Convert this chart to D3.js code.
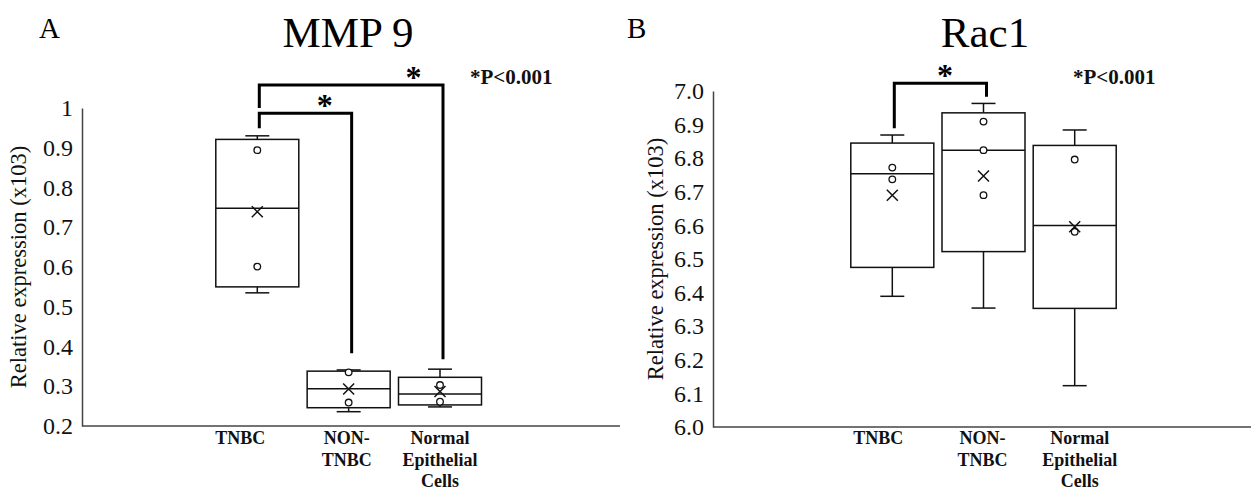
<!DOCTYPE html>
<html>
<head>
<meta charset="utf-8">
<script src="https://cdn.jsdelivr.net/npm/d3@7"></script>
<style>
  html, body { margin: 0; padding: 0; background: #fff; }
  svg { display: block; font-family: "Liberation Serif", "Times New Roman", serif; }
</style>
</head>
<body>
<svg id="chart" width="1251" height="494"></svg>
<script>
// ---------- data ----------
const categories = ["TNBC", "NON-TNBC", "Normal Epithelial Cells"];
const categoryLines = [["TNBC"], ["NON-", "TNBC"], ["Normal", "Epithelial", "Cells"]];

// Panel A: MMP 9
const mmpLow    = [0.535, 0.236, 0.248];
const mmpQ1     = [0.550, 0.246, 0.253];
const mmpMedian = [0.748, 0.294, 0.2805];
const mmpQ3     = [0.921, 0.338, 0.3225];
const mmpHigh   = [0.930, 0.341, 0.343];
const mmpMean   = [0.739, 0.293, 0.287];
const mmpPoints = [[0.894, 0.601], [0.335, 0.259], [0.303, 0.261]];
const mmpTicks  = [0.2, 0.3, 0.4, 0.5, 0.6, 0.7, 0.8, 0.9, 1];
const mmpTickLabels = ["0.2", "0.3", "0.4", "0.5", "0.6", "0.7", "0.8", "0.9", "1"];
// significance brackets: [from, to, top value, from-leg end, to-leg end]
const mmpBrackets = [[0, 1, 0.987, 0.949, 0.383], [0, 2, 1.058, 1.0, 0.368]];

// Panel B: Rac1
const racLow    = [6.389, 6.354, 6.123];
const racQ1     = [6.475, 6.522, 6.353];
const racMedian = [6.754, 6.824, 6.600];
const racQ3     = [6.845, 6.935, 6.838];
const racHigh   = [6.869, 6.963, 6.884];
const racMean   = [6.690, 6.747, 6.596];
const racPoints = [[6.772, 6.737], [6.909, 6.824, 6.690], [6.796, 6.581]];
const racTicks  = [6.0, 6.1, 6.2, 6.3, 6.4, 6.5, 6.6, 6.7, 6.8, 6.9, 7.0];
const racTickLabels = ["6.0", "6.1", "6.2", "6.3", "6.4", "6.5", "6.6", "6.7", "6.8", "6.9", "7.0"];
const racBrackets = [[0, 1, 7.023, 6.889, 6.983]];

const yTitle = "Relative expression (x103)";
const pText = "*P<0.001";

// ---------- layout ----------
const svg = d3.select("#chart");
svg.append("rect").attr("width", 1251).attr("height", 494).attr("fill", "#fff");

const serif = "'Liberation Serif', 'Times New Roman', serif";

const panels = [
  {
    letter: "A", letterX: 39, title: "MMP 9", titleX: 348,
    axisX: 82, axisEnd: 620, yRange: [426, 108], domain: [0.2, 1],
    xRange: [257.3, 440], labelDx: [-17, -2, 0],
    ticks: mmpTicks, tickLabels: mmpTickLabels, yTitleX: 18,
    low: mmpLow, q1: mmpQ1, med: mmpMedian, q3: mmpQ3, high: mmpHigh, mean: mmpMean, pts: mmpPoints,
    brackets: mmpBrackets, starFrac: [0.71, 0.84], pX: 470
  },
  {
    letter: "B", letterX: 627, title: "Rac1", titleX: 985,
    axisX: 713, axisEnd: 1251, yRange: [427, 91], domain: [6.0, 7.0],
    xRange: [892.3, 1074.7], labelDx: [-14, -1, 5],
    ticks: racTicks, tickLabels: racTickLabels, yTitleX: 655,
    low: racLow, q1: racQ1, med: racMedian, q3: racQ3, high: racHigh, mean: racMean, pts: racPoints,
    brackets: racBrackets, starFrac: [0.55], pX: 1073
  }
];

const boxW = 83, capW = 24;

panels.forEach(p => {
  const g = svg.append("g");
  const y = d3.scaleLinear().domain(p.domain).range(p.yRange);
  const x = d3.scalePoint().domain(categories).range(p.xRange);

  // panel letter and title
  g.append("text").attr("x", p.letterX).attr("y", 38).attr("font-size", 29)
    .attr("font-family", serif).text(p.letter);
  g.append("text").attr("x", p.titleX).attr("y", 47).attr("text-anchor", "middle")
    .attr("font-family", serif).attr("font-size", 43).text(p.title);

  // y axis
  const axis = d3.axisLeft(y).tickValues(p.ticks).tickSize(0).tickPadding(9)
    .tickFormat((d, i) => p.tickLabels[i]);
  const ag = g.append("g").attr("transform", `translate(${p.axisX},0)`).call(axis)
    .attr("font-family", serif).attr("font-size", 24);
  ag.select(".domain").attr("stroke", "#444").attr("stroke-width", 1.5);
  ag.selectAll("text").attr("fill", "#111");

  // x axis line
  g.append("line").attr("x1", p.axisX).attr("x2", p.axisEnd)
    .attr("y1", p.yRange[0]).attr("y2", p.yRange[0])
    .attr("stroke", "#444").attr("stroke-width", 1.5);

  // y title
  const midY = (p.yRange[0] + p.yRange[1]) / 2;
  g.append("text").attr("transform", `translate(${p.yTitleX},${midY}) rotate(-90)`)
    .attr("text-anchor", "middle").attr("dominant-baseline", "central")
    .attr("font-family", serif).attr("font-size", 22.5).attr("fill", "#111").text(yTitle);

  // category labels
  categories.forEach((c, i) => {
    const t = g.append("text").attr("text-anchor", "middle").attr("font-size", 18)
      .attr("font-family", serif).attr("font-weight", "bold").attr("fill", "#111");
    categoryLines[i].forEach((line, j) => {
      t.append("tspan").attr("x", x(c) + p.labelDx[i]).attr("y", 444 + j * 21.7).text(line);
    });
  });

  // boxes
  categories.forEach((c, i) => {
    const cx = x(c);
    const bg = g.append("g").attr("stroke", "#111").attr("stroke-width", 1.5).attr("fill", "none");
    // whiskers
    bg.append("line").attr("x1", cx).attr("x2", cx).attr("y1", y(p.high[i])).attr("y2", y(p.q3[i]));
    bg.append("line").attr("x1", cx).attr("x2", cx).attr("y1", y(p.q1[i])).attr("y2", y(p.low[i]));
    bg.append("line").attr("x1", cx - capW / 2).attr("x2", cx + capW / 2)
      .attr("y1", y(p.high[i])).attr("y2", y(p.high[i]));
    bg.append("line").attr("x1", cx - capW / 2).attr("x2", cx + capW / 2)
      .attr("y1", y(p.low[i])).attr("y2", y(p.low[i]));
    // box
    bg.append("rect").attr("x", cx - boxW / 2).attr("width", boxW)
      .attr("y", y(p.q3[i])).attr("height", y(p.q1[i]) - y(p.q3[i])).attr("fill", "#fff");
    bg.append("line").attr("x1", cx - boxW / 2).attr("x2", cx + boxW / 2)
      .attr("y1", y(p.med[i])).attr("y2", y(p.med[i]));
    // points
    p.pts[i].forEach(v => {
      bg.append("circle").attr("cx", cx).attr("cy", y(v)).attr("r", 3.3)
        .attr("fill", "#fff").attr("stroke-width", 1.3);
    });
    // mean marker
    const my = y(p.mean[i]), s = 5.5;
    bg.append("path").attr("d", `M${cx - s},${my - s}L${cx + s},${my + s}M${cx - s},${my + s}L${cx + s},${my - s}`)
      .attr("stroke-width", 1.5);
  });

  // brackets
  p.brackets.forEach((b, k) => {
    const x1 = x(categories[b[0]]) + 2, x2 = x(categories[b[1]]) + 3;
    const yt = y(b[2]);
    g.append("path")
      .attr("d", `M${x1},${y(b[3])}V${yt}H${x2}V${y(b[4])}`)
      .attr("fill", "none").attr("stroke", "#000").attr("stroke-width", 3);
    const sx = x1 + (x2 - x1) * p.starFrac[k];
    g.append("text").attr("x", sx).attr("y", yt - 12 + 15).attr("text-anchor", "middle")
      .attr("font-family", serif).attr("font-size", 32).attr("font-weight", "bold").text("*");
  });

  // p-value note
  g.append("text").attr("x", p.pX).attr("y", 84).attr("font-size", 21)
    .attr("font-family", serif).attr("font-weight", "bold").attr("fill", "#111").text(pText);
});
</script>
</body>
</html>
